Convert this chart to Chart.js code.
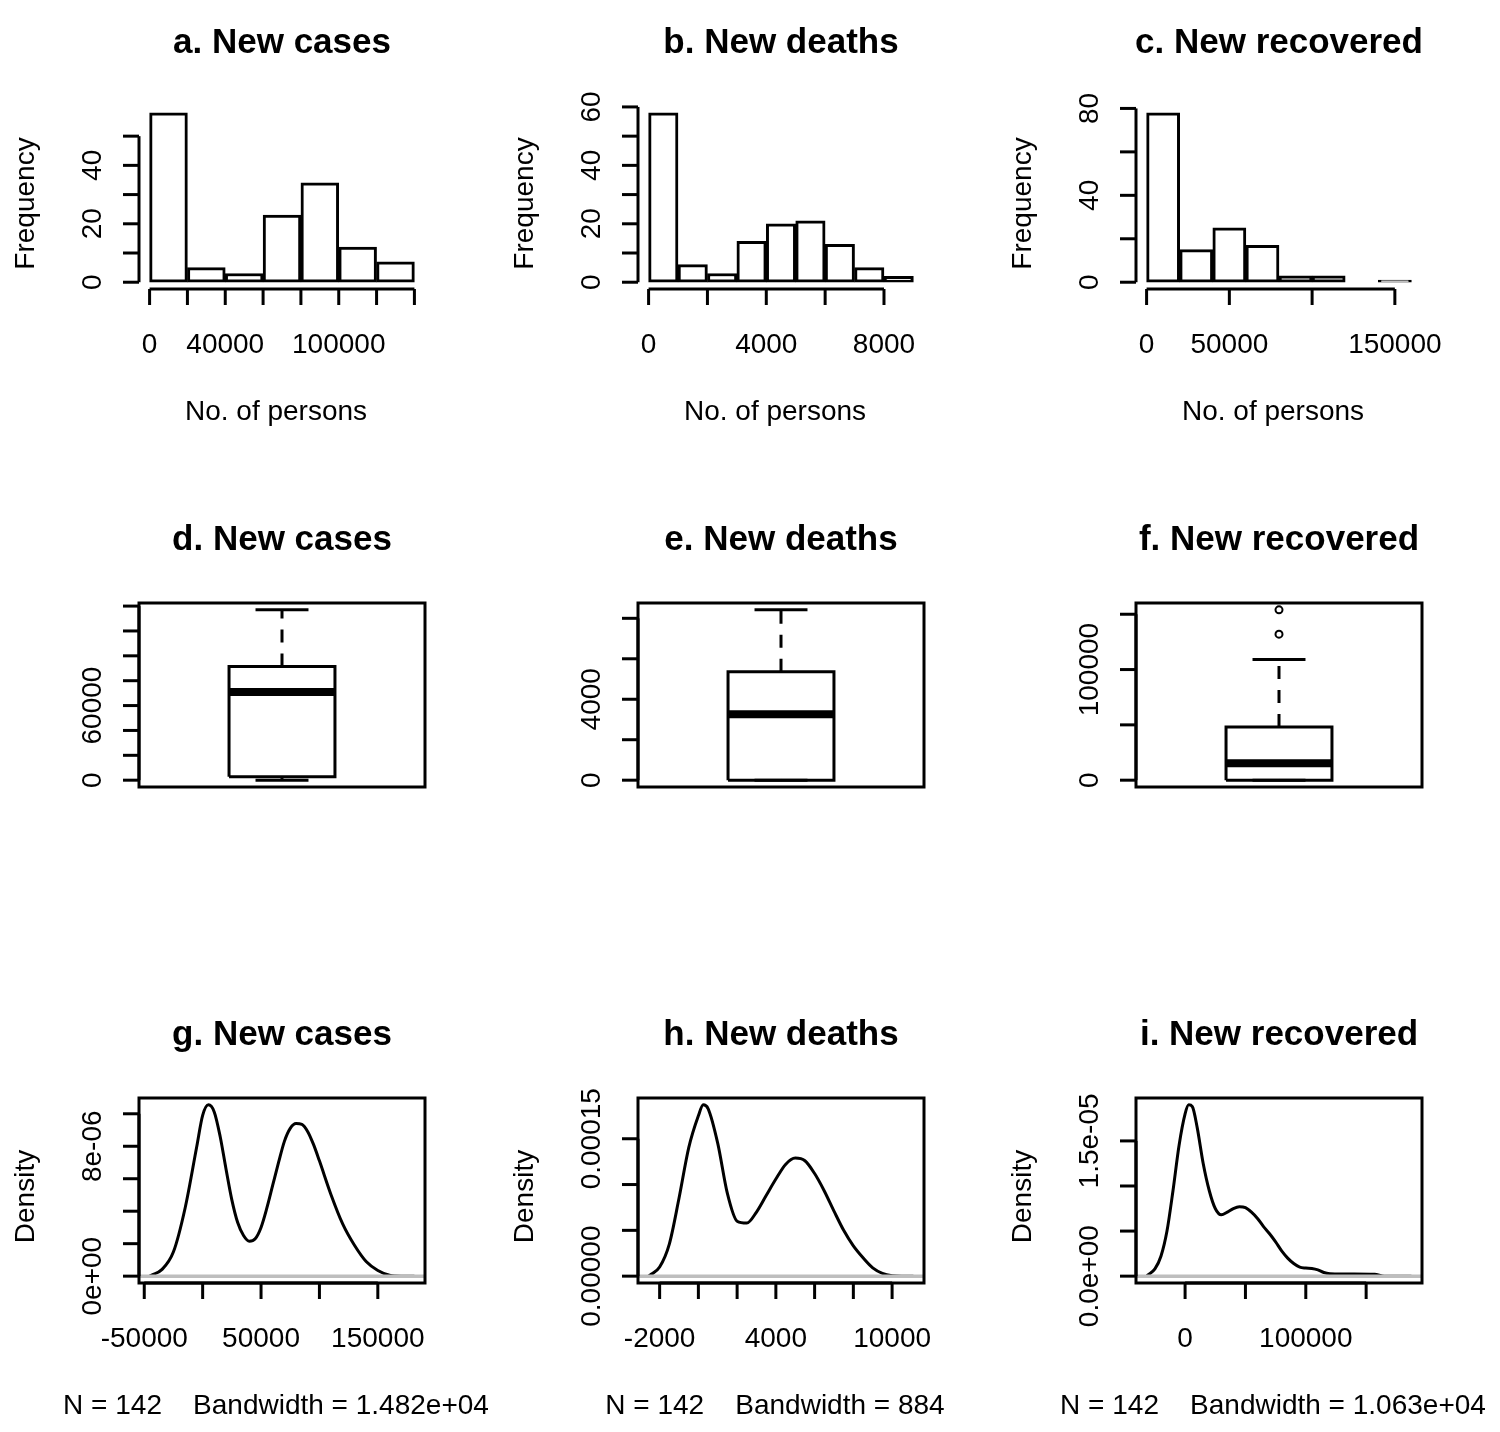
<!DOCTYPE html>
<html><head><meta charset="utf-8">
<script src="https://cdn.jsdelivr.net/npm/chart.js@4"></script>
<style>body{margin:0;background:#fff;width:1500px;height:1432px;position:relative;overflow:hidden}canvas{position:absolute}</style>
</head><body>
<script>
// ---------- DATA ----------
const histA_breaks = [0,20000,40000,60000,80000,100000,120000,140000];
const histA_counts = [58,5,3,23,34,12,7];
const histB_breaks = [0,1000,2000,3000,4000,5000,6000,7000,8000,9000];
const histB_counts = [58,6,3,14,20,21,13,5,2];
const histC_breaks = [0,20000,40000,60000,80000,100000,120000,140000,160000];
const histC_counts = [78,15,25,17,3,3,0,1];

// boxplot stats: [lower whisker, Q1, median, Q3, upper whisker]
const boxD_stats = [0,2700,71000,91400,137000];
const boxE_stats = [0,0,3260,5360,8420];
const boxF_stats = [0,0,15300,48000,109000];
const boxD_out = [];
const boxE_out = [];
const boxF_out = [132000,154000];

// densities
const densG_x = [-45430,-44000,-35000,-25000,-15000,-5000,0,5000,10000,15000,20000,25000,30000,35000,40000,45000,50000,55000,60000,65000,70000,75000,80000,85000,90000,95000,100000,110000,120000,130000,140000,150000,160000,170000,181330];
const densG_y = [0,0.05e-6,0.4e-6,1.5e-6,4.2e-6,8.0e-6,9.9e-6,10.55e-6,10.1e-6,8.6e-6,6.6e-6,4.7e-6,3.3e-6,2.5e-6,2.15e-6,2.3e-6,3.0e-6,4.2e-6,5.6e-6,7.0e-6,8.3e-6,9.1e-6,9.4e-6,9.35e-6,8.9e-6,8.1e-6,7.1e-6,5.0e-6,3.2e-6,1.9e-6,0.9e-6,0.35e-6,0.06e-6,0,0];
const densH_x = [-2570,-2500,-2000,-1500,-1000,-500,0,250,500,1000,1500,2000,2500,3000,3500,4000,4500,5000,5500,6000,6500,7000,7500,8000,8500,9000,9500,10000,10500,11100];
const densH_y = [0,0.1e-5,1.0e-5,3.5e-5,8.5e-5,14e-5,17.5e-5,18.7e-5,18.3e-5,14.5e-5,9e-5,6e-5,5.8e-5,7e-5,8.8e-5,10.6e-5,12.2e-5,12.9e-5,12.6e-5,11.2e-5,9.3e-5,7.1e-5,5e-5,3.3e-5,2e-5,0.9e-5,0.3e-5,0.05e-5,0,0];
const densI_x = [-31890,-31000,-25000,-20000,-15000,-10000,-5000,0,3000,6000,10000,15000,20000,25000,30000,35000,40000,45000,50000,55000,60000,65000,70000,75000,80000,85000,90000,95000,100000,105000,110000,115000,120000,130000,140000,157000,165000,187500];
const densI_y = [0,0.1e-6,0.8e-6,2.2e-6,5e-6,9.5e-6,14.5e-6,18e-6,19e-6,18.8e-6,16.5e-6,12.5e-6,9.5e-6,7.5e-6,6.8e-6,7.1e-6,7.5e-6,7.7e-6,7.6e-6,7.1e-6,6.4e-6,5.5e-6,4.7e-6,3.8e-6,2.8e-6,2.0e-6,1.4e-6,1.0e-6,0.9e-6,0.85e-6,0.7e-6,0.4e-6,0.28e-6,0.25e-6,0.25e-6,0.22e-6,0,0];

// ticks and shown labels
const aXTicks=[0,20000,40000,60000,80000,100000,120000,140000], aXLab={0:'0',40000:'40000',100000:'100000'};
const aYTicks=[0,10,20,30,40,50], aYLab={0:'0',20:'20',40:'40'};
const bXTicks=[0,2000,4000,6000,8000], bXLab={0:'0',4000:'4000',8000:'8000'};
const bYTicks=[0,10,20,30,40,50,60], bYLab={0:'0',20:'20',40:'40',60:'60'};
const cXTicks=[0,50000,100000,150000], cXLab={0:'0',50000:'50000',150000:'150000'};
const cYTicks=[0,20,40,60,80], cYLab={0:'0',40:'40',80:'80'};
const dYTicks=[0,20000,40000,60000,80000,100000,120000,140000], dYLab={0:'0',60000:'60000'};
const eYTicks=[0,2000,4000,6000,8000], eYLab={0:'0',4000:'4000'};
const fYTicks=[0,50000,100000,150000], fYLab={0:'0',100000:'100000'};
const gXTicks=[-50000,0,50000,100000,150000], gXLab={'-50000':'-50000',50000:'50000',150000:'150000'};
const gYTicks=[0,2e-6,4e-6,6e-6,8e-6,1e-5], gYLab={0:'0e+00','8e-6':'8e-06'};
const hXTicks=[-2000,0,2000,4000,6000,8000,10000], hXLab={'-2000':'-2000',4000:'4000',10000:'10000'};
const hYTicks=[0,5e-5,1e-4,1.5e-4], hYLab={0:'0.00000','0.00015':'0.00015'};
const iXTicks=[0,50000,100000,150000], iXLab={0:'0',100000:'100000'};
const iYTicks=[0,5e-6,1e-5,1.5e-5], iYLab={0:'0.0e+00','0.000015':'1.5e-05'};

// ---------- LAYOUT ----------
const COL_LEFT=[139,638,1136], PW=286;
const ROWS=[{top:0,h:480,pt:106,pb:289},{top:480,h:480,pt:603,pb:787},{top:960,h:472,pt:1098,pb:1283}];
const FONT='"Liberation Sans", Arial, sans-serif';

function lab(map,v){ for(const k in map){ if(Math.abs(Number(k)-v)<=Math.abs(v)*1e-9+1e-12) return map[k]; } return null; }

const rAxes={id:'rAxes',afterDraw(chart){
  const o=chart.options.plugins.rAxes, ctx=chart.ctx, a=chart.chartArea, sx=chart.scales.x, sy=chart.scales.y;
  ctx.save(); ctx.strokeStyle='#000'; ctx.fillStyle='#000'; ctx.lineWidth=3; ctx.lineCap='butt';
  if(o.frame){ctx.strokeRect(a.left,a.top,a.right-a.left,a.bottom-a.top);}
  ctx.font='28px '+FONT;
  if(o.xTicks){
    const y=a.bottom, p0=sx.getPixelForValue(o.xTicks[0]), p1=sx.getPixelForValue(o.xTicks[o.xTicks.length-1]);
    ctx.beginPath(); ctx.moveTo(p0,y); ctx.lineTo(p1,y); ctx.stroke();
    ctx.textAlign='center'; ctx.textBaseline='middle';
    o.xTicks.forEach(v=>{const p=sx.getPixelForValue(v); ctx.beginPath(); ctx.moveTo(p,y); ctx.lineTo(p,y+16); ctx.stroke();
      const t=lab(o.xLab,v); if(t) ctx.fillText(t,p,y+56);});
  }
  if(o.yTicks){
    const x=a.left, p0=sy.getPixelForValue(o.yTicks[0]), p1=sy.getPixelForValue(o.yTicks[o.yTicks.length-1]);
    ctx.beginPath(); ctx.moveTo(x,p0); ctx.lineTo(x,p1); ctx.stroke();
    o.yTicks.forEach(v=>{const p=sy.getPixelForValue(v); ctx.beginPath(); ctx.moveTo(x,p); ctx.lineTo(x-16,p); ctx.stroke();
      const t=lab(o.yLab,v); if(t){ctx.save(); ctx.translate(x-46,p); ctx.rotate(-Math.PI/2); ctx.textAlign='center'; ctx.textBaseline='middle'; ctx.fillText(t,0,0); ctx.restore();}});
  }
  const cx=(a.left+a.right)/2;
  ctx.textAlign='center'; ctx.textBaseline='middle';
  ctx.font='bold 35px '+FONT; ctx.fillText(o.title,cx,a.top-63);
  ctx.font='28px '+FONT;
  if(o.xlab) ctx.fillText(o.xlab,cx-6,a.bottom+123);
  if(o.ylab){ctx.save(); ctx.translate(a.left-113,(a.top+a.bottom)/2+6); ctx.rotate(-Math.PI/2); ctx.fillText(o.ylab,0,0); ctx.restore();}
  ctx.restore();
}};
Chart.register(rAxes);

function makeCanvas(row,col){
  const c=document.createElement('canvas'); const R=ROWS[row];
  c.width=500; c.height=R.h; c.style.left=(col*500)+'px'; c.style.top=R.top+'px'; c.style.width='500px'; c.style.height=R.h+'px';
  document.body.appendChild(c);
  const L=COL_LEFT[col]-col*500;
  return {ctx:c.getContext('2d'), pad:{left:L,right:500-L-PW,top:R.pt-R.top,bottom:R.top+R.h-R.pb}};
}
function ext(lo,hi){const d=hi-lo; return [lo-0.04*d, hi+0.04*d];}
function baseOpts(pad,xr,yr,ax){
  return {responsive:false,animation:false,devicePixelRatio:1,layout:{padding:pad},
    plugins:{legend:{display:false},tooltip:{enabled:false},rAxes:ax},
    scales:{x:{type:'linear',display:false,offset:false,min:xr[0],max:xr[1]},y:{type:'linear',display:false,min:yr[0],max:yr[1]}}};
}

function hist(row,col,breaks,counts,ax){
  const {ctx,pad}=makeCanvas(row,col);
  const data=counts.map((c,i)=>({x:(breaks[i]+breaks[i+1])/2,y:c}));
  const xr=ext(breaks[0],breaks[breaks.length-1]), yr=ext(0,Math.max(...counts));
  new Chart(ctx,{type:'bar',data:{datasets:[{data,backgroundColor:'#fff',borderColor:'#000',borderWidth:3,borderSkipped:false,barPercentage:1,categoryPercentage:1}]},
    options:baseOpts(pad,xr,yr,Object.assign({frame:false,xlab:'No. of persons',ylab:'Frequency'},ax))});
}
function box(row,col,st,out,ax){
  const {ctx,pad}=makeCanvas(row,col);
  const [lw,q1,md,q3,uw]=st, all=st.concat(out);
  const xr=ext(0.5,1.5), yr=ext(Math.min(...all),Math.max(...all));
  const seg=(pts,extra)=>Object.assign({type:'line',data:pts.map(p=>({x:p[0],y:p[1]})),borderColor:'#000',borderWidth:3,pointRadius:0,fill:false,tension:0},extra||{});
  const ds=[
    seg([[0.8,q1],[1.2,q1],[1.2,q3],[0.8,q3],[0.8,q1]],{backgroundColor:'#fff'}),
    seg([[0.8,md],[1.2,md]],{borderWidth:8}),
    seg([[1,q3],[1,uw]],{borderDash:[13,11]}),
    seg([[1,lw],[1,q1]],{borderDash:[13,11]}),
    seg([[0.9,uw],[1.1,uw]]),
    seg([[0.9,lw],[1.1,lw]]),
    {type:'scatter',data:out.map(v=>({x:1,y:v})),pointRadius:3.5,borderWidth:2,borderColor:'#000',backgroundColor:'#fff',pointStyle:'circle'}
  ];
  new Chart(ctx,{type:'line',data:{datasets:ds},options:baseOpts(pad,xr,yr,Object.assign({frame:true},ax))});
}
function dens(row,col,xs,ys,ax){
  const {ctx,pad}=makeCanvas(row,col);
  const xr=ext(xs[0],xs[xs.length-1]), yr=ext(0,Math.max(...ys));
  new Chart(ctx,{type:'line',data:{datasets:[
    {data:[{x:xr[0],y:0},{x:xr[1],y:0}],borderColor:'#bebebe',borderWidth:3.5,pointRadius:0,order:0},
    {data:xs.map((x,i)=>({x,y:ys[i]})),borderColor:'#000',borderWidth:3,pointRadius:0,cubicInterpolationMode:'monotone',order:1}
  ]},options:baseOpts(pad,xr,yr,Object.assign({frame:true,ylab:'Density'},ax))});
}

hist(0,0,histA_breaks,histA_counts,{title:'a. New cases',xTicks:aXTicks,xLab:aXLab,yTicks:aYTicks,yLab:aYLab});
hist(0,1,histB_breaks,histB_counts,{title:'b. New deaths',xTicks:bXTicks,xLab:bXLab,yTicks:bYTicks,yLab:bYLab});
hist(0,2,histC_breaks,histC_counts,{title:'c. New recovered',xTicks:cXTicks,xLab:cXLab,yTicks:cYTicks,yLab:cYLab});
box(1,0,boxD_stats,boxD_out,{title:'d. New cases',yTicks:dYTicks,yLab:dYLab});
box(1,1,boxE_stats,boxE_out,{title:'e. New deaths',yTicks:eYTicks,yLab:eYLab});
box(1,2,boxF_stats,boxF_out,{title:'f. New recovered',yTicks:fYTicks,yLab:fYLab});
dens(2,0,densG_x,densG_y,{title:'g. New cases',xTicks:gXTicks,xLab:gXLab,yTicks:gYTicks,yLab:gYLab,xlab:'N = 142    Bandwidth = 1.482e+04'});
dens(2,1,densH_x,densH_y,{title:'h. New deaths',xTicks:hXTicks,xLab:hXLab,yTicks:hYTicks,yLab:hYLab,xlab:'N = 142    Bandwidth = 884'});
dens(2,2,densI_x,densI_y,{title:'i. New recovered',xTicks:iXTicks,xLab:iXLab,yTicks:iYTicks,yLab:iYLab,xlab:'N = 142    Bandwidth = 1.063e+04'});
</script>
</body></html>
